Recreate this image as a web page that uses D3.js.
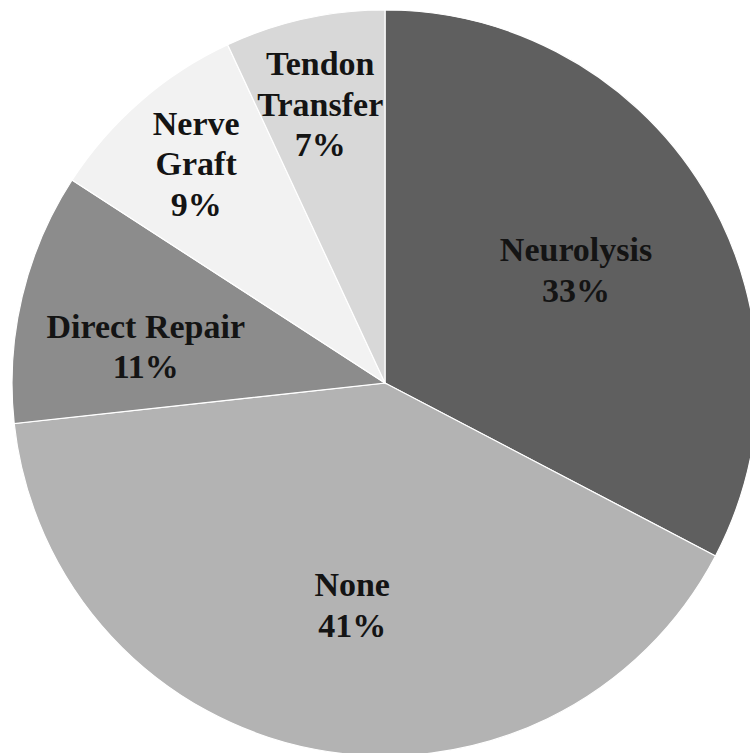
<!DOCTYPE html>
<html>
<head>
<meta charset="utf-8">
<script src="https://cdn.jsdelivr.net/npm/d3@7"></script>
<style>
  html, body { margin: 0; padding: 0; background: #fff; }
  svg { display: block; }
</style>
</head>
<body>
<svg id="pie" width="750" height="753"></svg>
<script>
const categories = [["Neurolysis"], ["None"], ["Direct Repair"], ["Nerve", "Graft"], ["Tendon", "Transfer"]];
const percents = [33, 41, 11, 9, 7];
const colors = ["#5f5f5f", "#b3b3b3", "#8c8c8c", "#f2f2f2", "#d8d8d8"];

// label placement: fraction of radius, angle nudge in degrees
const labelR = [0.595, 0.603, 0.649, 0.775, 0.767];
const labelNudge = [0.6, -2.3, -4.7, 0.2, -0.6];

(function () {
    const svg = d3.select("#pie");
    const cx = 385, cy = 383, R = 373;
    const fontSize = 34, lineH = 40.5;

    const data = categories.map((c, i) => ({ lines: c, value: percents[i], i }));

    const pie = d3.pie().sort(null).value(d => d.value);
    const arcs = pie(data);

    const arc = d3.arc().innerRadius(0).outerRadius(R);

    const g = svg.append("g").attr("transform", `translate(${cx},${cy})`);

    g.selectAll("path.slice")
        .data(arcs)
        .join("path")
        .attr("class", "slice")
        .attr("d", arc)
        .attr("fill", d => colors[d.data.i])
        .attr("stroke", "#fff")
        .attr("stroke-width", 1.2);

    const labels = g.selectAll("text.lbl")
        .data(arcs)
        .join("text")
        .attr("class", "lbl")
        .attr("text-anchor", "middle")
        .style("font-family", "'Liberation Serif', 'Times New Roman', serif")
        .style("font-weight", "bold")
        .style("font-size", fontSize + "px")
        .attr("fill", "#141414")
        .each(function (d) {
            const k = d.data.i;
            const a = (d.startAngle + d.endAngle) / 2 + labelNudge[k] * Math.PI / 180;
            const r = R * labelR[k];
            const x = r * Math.sin(a), y = -r * Math.cos(a);
            const lines = d.data.lines.concat([d.data.value + "%"]);
            const n = lines.length;
            const t = d3.select(this);
            lines.forEach((s, j) => {
                t.append("tspan")
                    .attr("x", x)
                    .attr("y", y + (j - (n - 1) / 2) * lineH + fontSize * 0.33)
                    .text(s);
            });
        });
})();
</script>
</body>
</html>
